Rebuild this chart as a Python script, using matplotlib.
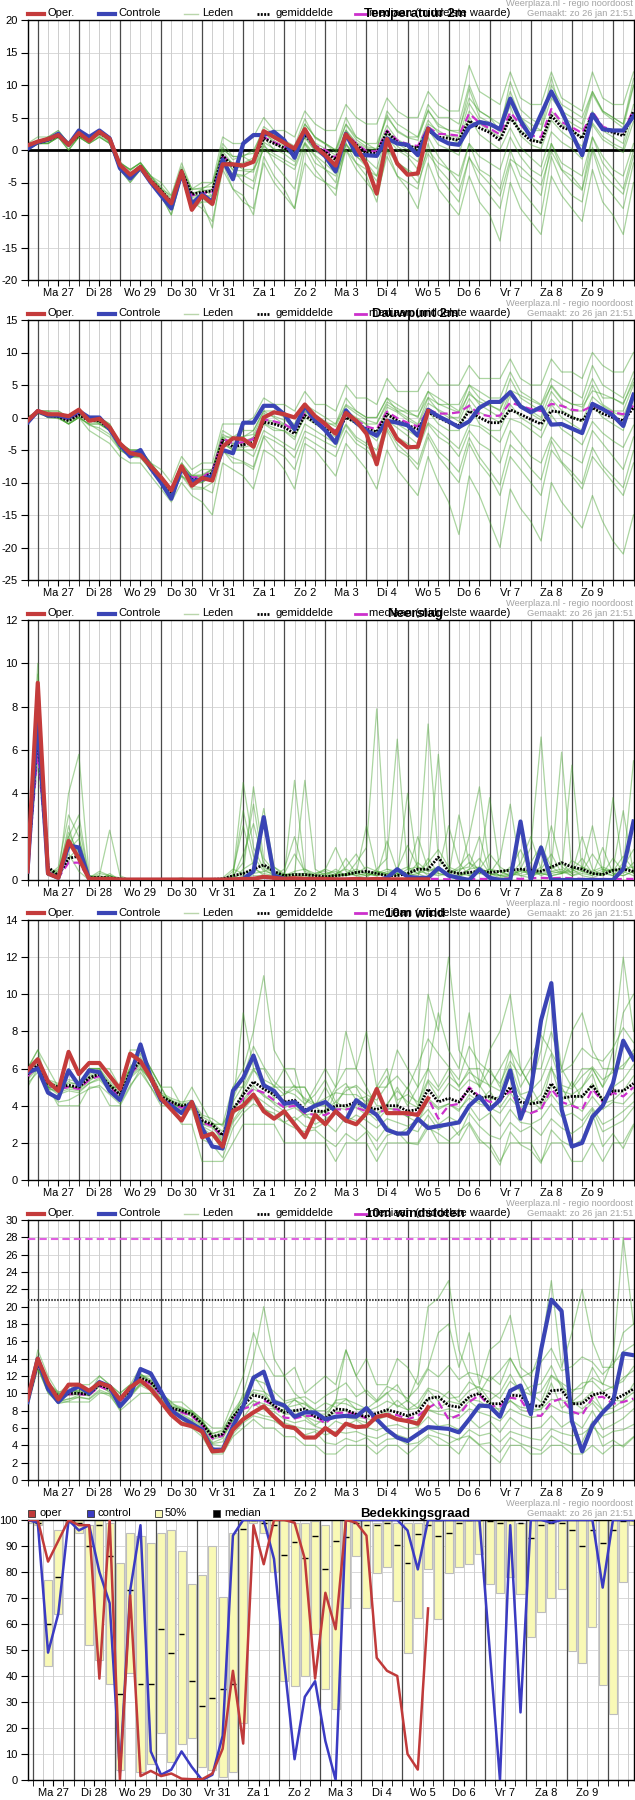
import numpy as np
import matplotlib
matplotlib.use("Agg")
import matplotlib.pyplot as plt
from matplotlib.lines import Line2D
from matplotlib.patches import Rectangle

plt.rcParams['font.family'] = ['Liberation Sans', 'DejaVu Sans']
plt.rcParams['font.size'] = 8
plt.rcParams['axes.unicode_minus'] = False

W, H = 635, 1800

# tijdas: elke 6 uur vanaf zo 26 jan 18:00 (60 punten)
uren = np.arange(60) * 6
DAGEN = ['Ma 27', 'Di 28', 'Wo 29', 'Do 30', 'Vr 31', 'Za 1', 'Zo 2',
         'Ma 3', 'Di 4', 'Wo 5', 'Do 6', 'Vr 7', 'Za 8', 'Zo 9']

# ---------------- temperatuur 2m ----------------
temp_oper = [0.7, 1.3, 1.7, 2.3, 0.8, 2.6, 1.4, 2.8, 1.7, -2.3, -3.8, -2.6, -4.8, -6.5, -8.2, -3.3,
             -9.2, -7.0, -8.3, -2.2, -2.2, -2.4, -1.8, 2.9, 2.0, 1.1, 0.2, 3.2, 0.5, -0.8, -2.4, 2.4,
             0.5, -2.2, -6.7, 1.7, -2.1, -3.8, -3.6, 3.2]
temp_ctrl = [0.2, 1.2, 1.6, 2.5, 0.8, 3.0, 2.0, 3.0, 1.8, -2.8, -4.4, -2.7, -5.0, -7.0, -9.0, -3.6,
             -8.3, -6.8, -8.0, -1.5, -4.5, 1.0, 2.3, 2.3, 2.8, 1.5, -1.2, 3.0, 0.5, -1.0, -3.3, 2.5,
             -0.7, -0.8, -0.9, 1.8, 1.0, 0.8, -0.8, 3.3, 1.8, 1.0, 0.8, 3.5, 4.3, 4.0, 3.2, 7.9,
             4.5, 2.0, 5.5, 9.0, 6.0, 2.5, -0.8, 5.5, 3.2, 3.0, 3.0, 5.2]
temp_gem = [0.5, 1.1, 1.5, 2.2, 0.8, 2.3, 1.8, 2.6, 1.7, -2.5, -3.8, -2.5, -4.6, -6.2, -8.0, -3.2,
            -6.8, -6.5, -6.3, -0.8, -2.6, -2.4, -1.8, 1.8, 1.0, 0.3, -0.8, 2.4, 0.5, -0.3, -1.5, 2.3,
            0.8, -0.5, -0.5, 2.8, 1.2, 0.6, 0.3, 3.0, 2.0, 1.8, 1.5, 4.5, 3.4, 2.7, 1.5, 5.0,
            2.8, 1.5, 1.2, 5.3, 3.5, 3.0, 1.8, 5.6, 3.2, 2.7, 2.2, 6.0]
temp_med = [0.6, 1.1, 1.5, 2.3, 0.8, 2.4, 1.8, 2.7, 1.7, -2.5, -3.9, -2.5, -4.7, -6.3, -8.1, -3.2,
            -7.0, -6.6, -6.5, -0.9, -2.4, -2.3, -1.6, 2.0, 1.2, 0.5, -0.6, 2.6, 0.7, 0.0, -1.2, 2.5,
            1.0, -0.2, -0.2, 3.0, 1.5, 0.9, 0.6, 3.5, 2.5, 2.4, 2.2, 5.6, 4.2, 3.3, 2.4, 5.8,
            3.9, 2.2, 2.0, 6.3, 4.3, 3.5, 2.6, 5.9, 3.6, 3.0, 2.8, 6.2]
temp_leden = [
    [1, 1, 2, 3, 1, 3, 2, 3, 2, -2, -3, -2, -4, -6, -7, -3, -6, -6, -5, 0, -1, -1, 0, 3, 2, 1, 0, 4, 2, 1, 0, 4,
     2, 1, 1, 5, 3, 2, 2, 6, 4, 3, 3, 8, 6, 5, 4, 9, 5, 4, 3, 8, 6, 5, 4, 9, 6, 5, 4, 10],
    [0, 1, 1, 2, 0, 2, 1, 2, 1, -3, -4, -3, -5, -7, -9, -4, -8, -8, -8, -2, -4, -4, -3, 0, -1, -2, -3, 1, -2, -3, -4, 0,
     -2, -3, -4, 0, -2, -3, -4, 0, -2, -3, -4, 1, -1, -2, -3, 2, -1, -3, -4, 1, -2, -3, -4, 2, -1, -3, -4, 1],
    [1, 2, 2, 3, 1, 3, 2, 3, 2, -2, -3, -2, -4, -5, -7, -2, -6, -5, -5, 2, 1, 1, 2, 5, 3, 3, 2, 6, 4, 3, 3, 7,
     5, 4, 4, 8, 6, 5, 5, 9, 7, 6, 6, 13, 9, 8, 7, 12, 8, 7, 7, 12, 8, 7, 6, 12, 8, 7, 7, 12],
    [0, 1, 1, 2, 0, 2, 1, 3, 1, -3, -5, -3, -5, -7, -10, -4, -9, -8, -12, -2, -6, -7, -10, -1, -4, -6, -9, 0, -3, -5, -7, 1,
     -2, -4, -8, 0, -4, -6, -9, -2, -6, -8, -10, -4, -8, -10, -14, -5, -9, -11, -13, -4, -7, -9, -11, -3, -8, -10, -13, -5],
    [1, 1, 2, 2, 1, 2, 2, 3, 2, -2, -3, -2, -4, -6, -8, -3, -7, -7, -6, 1, -1, -1, -2, 3, 1, 0, -1, 4, 2, 1, 0, 5,
     2, 1, 0, 6, 4, 3, 2, 7, 5, 5, 4, 10, 6, 5, 3, 8, 5, 3, 3, 10, 7, 6, 5, 9, 6, 5, 4, 11],
    [0, 1, 1, 2, 0, 2, 1, 2, 1, -3, -4, -3, -5, -7, -9, -4, -7, -7, -7, -1, -3, -5, -6, 1, -2, -4, -6, 1, -1, -3, -5, 1,
     -1, -2, -4, 2, 0, -1, -3, 2, -1, -3, -5, 1, -3, -4, -6, 0, -4, -5, -7, 1, -3, -4, -6, 2, -2, -4, -6, 0],
    [1, 1, 2, 2, 1, 2, 2, 3, 2, -3, -4, -3, -5, -6, -8, -3, -7, -6, -7, -1, -2, -3, -3, 2, 0, 0, -1, 2, 0, -1, -2, 3,
     1, 0, -1, 3, 1, 0, 0, 4, 3, 2, 1, 6, 4, 3, 2, 5, 3, 2, 1, 6, 4, 3, 2, 6, 3, 2, 1, 7],
    [0, 1, 1, 2, 1, 2, 1, 2, 1, -3, -5, -3, -5, -7, -10, -4, -8, -9, -11, -3, -6, -8, -9, -2, -5, -7, -9, -2, -4, -5, -6, 0,
     -3, -5, -7, -1, -4, -5, -6, 1, -4, -6, -8, -1, -5, -7, -9, -2, -6, -8, -10, -1, -5, -7, -8, 0, -5, -7, -9, -2],
    [0.8, 1.4, 1.8, 2.6, 1.2, 2.5, 2.1, 3.1, 2.0, -1.8, -3.2, -1.9, -4.0, -5.6, -7.4, -2.6, -6.1, -5.8, -5.6, 0.4,
     -1.5, -0.8, -0.5, 3.6, 2.4, 1.5, 0.6, 4.8, 1.8, 0.9, -0.4, 3.9, 1.6, 0.5, 0.2, 5.4, 2.8, 1.9, 1.5, 6.2,
     3.6, 3.1, 2.6, 9.4, 5.1, 4.2, 3.1, 10.5, 6.2, 4.8, 3.9, 11.2, 5.3, 4.1, 3.2, 8.6, 5.8, 4.6, 3.4, 9.8],
    [0.3, 0.9, 1.2, 1.9, 0.5, 2.0, 1.5, 2.2, 1.3, -2.9, -4.5, -3.1, -5.2, -6.8, -8.9, -3.9, -7.6, -7.4, -8.6, -1.8,
     -3.6, -3.9, -4.8, 0.6, -0.6, -1.5, -2.4, 1.2, -0.8, -2.1, -3.6, 0.8, -0.9, -2.6, -4.8, 0.3, -1.8, -3.2, -5.1, -0.6,
     -2.8, -4.6, -6.4, -1.2, -3.5, -5.2, -7.1, -1.4, -2.6, -4.1, -5.4, -0.2, -3.1, -4.8, -6.2, 0.4, -3.6, -5.3, -6.8, -0.9],
    [0.6, 1.2, 1.6, 2.4, 0.9, 2.2, 1.9, 2.9, 1.8, -2.2, -3.6, -2.3, -4.4, -6.0, -7.7, -3.0, -6.6, -6.3, -6.0, -0.2,
     -2.2, -2.0, -1.2, 2.6, 1.4, 0.6, -0.4, 3.4, 1.1, 0.2, -0.8, 3.1, 1.2, 0.3, -0.1, 3.8, 1.6, 0.8, 0.4, 4.6,
     2.6, 2.2, 1.9, 7.2, 4.6, 3.9, 2.8, 6.8, 2.2, 0.8, 0.2, 4.6, 2.8, 1.6, 0.6, 3.9, 1.6, 0.6, -0.4, 4.4],
    [0.4, 1.0, 1.4, 2.0, 0.6, 2.1, 1.6, 2.4, 1.5, -2.7, -4.1, -2.8, -4.9, -6.5, -8.4, -3.5, -7.3, -7.1, -7.2, -1.2,
     -3.1, -3.2, -3.4, 1.2, 0.2, -0.6, -1.8, 1.9, -0.2, -1.1, -2.6, 1.8, 0.1, -1.4, -2.9, 2.6, 0.6, -0.6, -1.8, 3.2,
     0.8, 0.1, -0.8, 5.1, 2.4, 1.2, 0.1, 3.4, 0.4, -1.2, -2.6, 2.8, 1.2, 0.2, -1.4, 4.2, 2.1, 1.0, 0.2, 5.6],
]

# ---------------- dauwpunt 2m ----------------
dauw_oper = [-0.5, 1.0, 0.5, 0.5, 0.2, 1.2, -0.5, -0.2, -1.5, -4.0, -5.5, -5.8, -7.5, -9.2, -11.2, -7.5,
             -10.5, -9.3, -9.7, -4.5, -3.2, -3.3, -4.5, 0.0, 0.8, 0.5, 0.0, 2.0, 0.2, -1.0, -2.5, 0.7,
             -0.5, -2.5, -7.2, -0.5, -3.3, -4.6, -4.5, 1.0]
dauw_ctrl = [-0.8, 1.0, 0.3, 0.3, 0.0, 1.0, 0.0, 0.0, -1.8, -4.2, -6.0, -5.0, -7.8, -10.0, -12.5, -7.8,
             -9.8, -9.5, -9.0, -5.0, -5.5, -0.8, -0.8, 1.8, 1.8, 0.5, -1.8, 1.8, -0.5, -2.0, -3.9, 1.1,
             -0.8, -2.0, -2.8, -0.5, -0.8, -1.2, -2.8, 1.2, 0.2, -0.6, -1.5, -0.6, 1.5, 2.4, 2.4, 3.9,
             1.7, 0.8, 1.6, -1.1, -1.0, -1.7, -2.4, 2.1, 1.3, 0.3, -1.3, 3.5]
dauw_gem = [-0.5, 0.8, 0.3, 0.1, -0.5, 0.4, -0.5, -0.5, -1.8, -4.2, -5.5, -5.5, -7.5, -9.5, -11.5, -8.0,
            -9.5, -9.5, -8.5, -3.5, -4.5, -4.2, -3.8, -0.7, -1.0, -1.5, -2.5, 0.3, -0.8, -1.8, -2.5, 0.0,
            -0.8, -1.8, -2.2, 0.5, -0.5, -1.2, -1.8, 0.8, 0.0, -0.8, -1.2, 1.0, 0.0, -0.8, -0.8, 1.2,
            0.5, -0.3, -1.0, 1.0, 0.8, 0.0, -0.5, 1.5, 0.6, 0.0, -0.5, 1.5]
dauw_med = [-0.4, 0.9, 0.4, 0.2, -0.3, 0.6, -0.3, -0.3, -1.6, -4.0, -5.3, -5.3, -7.3, -9.3, -11.2, -7.8,
            -9.2, -9.2, -8.2, -3.2, -4.0, -3.8, -3.3, -0.3, -0.6, -1.0, -2.0, 0.7, -0.4, -1.4, -2.0, 0.4,
            -0.4, -1.4, -1.8, 0.9, -0.1, -0.8, -1.4, 1.2, 0.6, 0.6, 0.8, 1.8, 0.5, 0.2, 0.3, 2.3,
            1.8, 1.3, 1.0, 2.1, 1.8, 1.2, 1.0, 1.8, 1.2, 0.8, 0.5, 1.8]
dauw_leden = [
    [0, 1, 1, 1, 0, 1, 0, 0, -1, -4, -5, -5, -7, -9, -11, -7, -9, -8, -8, -2, -3, -3, -2, 1, 1, 0, -1, 2, 1, 0, -1, 3,
     1, 0, 0, 3, 2, 1, 1, 4, 3, 2, 2, 5, 4, 3, 3, 7, 4, 3, 2, 6, 5, 4, 3, 8, 5, 4, 3, 7],
    [-1, 1, 0, 0, -1, 0, -2, -3, -4, -6, -7, -7, -9, -11, -13, -10, -12, -13, -15, -7, -8, -9, -11, -5, -6, -8, -11, -4,
     -5, -7, -9, -4, -6, -8, -11, -5, -8, -10, -12, -6, -10, -13, -18, -9, -12, -16, -20, -11, -14, -16, -19, -10,
     -13, -15, -17, -12, -16, -19, -21, -15],
    [0, 1, 1, 1, 0, 1, 0, 0, -1, -4, -5, -5, -7, -8, -10, -6, -8, -7, -7, -1, -1, -1, 0, 3, 2, 2, 1, 4, 2, 2, 1, 5,
     3, 3, 2, 6, 4, 4, 4, 7, 5, 5, 5, 8, 6, 6, 6, 9, 6, 5, 5, 9, 7, 7, 6, 10, 8, 7, 7, 10],
    [-1, 1, 0, 0, -1, 0, -1, -1, -2, -5, -6, -6, -8, -10, -12, -9, -10, -10, -9, -4, -5, -5, -5, -1, -2, -2, -3, 0,
     -1, -2, -3, 0, -1, -2, -3, 1, -1, -2, -3, 1, -1, -2, -2, 2, -1, -2, -2, 2, 0, -1, -2, 2, 0, -1, -2, 2, 0, -1, -2, 3],
    [-1, 1, 0, 0, -1, 0, -1, -2, -3, -5, -6, -6, -8, -10, -12, -9, -11, -11, -10, -5, -7, -7, -8, -3, -5, -6, -8, -3,
     -4, -5, -6, -2, -4, -5, -7, -2, -5, -6, -8, -3, -6, -8, -10, -4, -7, -9, -12, -6, -8, -10, -12, -5, -7, -9, -11, -6,
     -8, -10, -12, -7],
    [0, 1, 1, 0, 0, 1, 0, -1, -2, -4, -6, -5, -7, -9, -11, -8, -9, -9, -8, -3, -3, -2, -2, 1, 0, -1, -2, 2, 0, -1, -1, 2,
     1, 0, 0, 3, 1, 1, 0, 4, 2, 2, 1, 5, 3, 2, 1, 6, 3, 2, 1, 5, 3, 2, 2, 6, 3, 3, 2, 6],
    [-1, 1, 0, 0, -1, 0, -1, -1, -2, -4, -6, -6, -8, -10, -12, -8, -10, -10, -9, -4, -5, -5, -6, -2, -3, -4, -5, -1,
     -2, -3, -4, -1, -3, -4, -5, -1, -3, -4, -5, -1, -3, -4, -6, -2, -4, -5, -7, -2, -4, -6, -7, -3, -5, -6, -7, -2,
     -4, -6, -8, -3],
    [0, 1, 0, 0, 0, 1, 0, 0, -2, -4, -5, -5, -7, -9, -11, -7, -9, -9, -8, -3, -4, -4, -3, 0, -1, -1, -2, 1, 0, -1, -2, 1,
     0, -1, -1, 2, 1, 0, -1, 3, 1, 0, 0, 4, 2, 1, 0, 4, 2, 1, 0, 4, 2, 1, 1, 5, 2, 1, 1, 5],
    [-0.3, 0.9, 0.5, 0.3, -0.2, 0.7, -0.2, -0.3, -1.4, -3.8, -5.1, -5.2, -7.1, -9.1, -10.9, -7.4, -8.9, -8.8, -7.9, -2.6,
     -3.4, -2.9, -2.6, 0.6, 0.2, -0.4, -1.2, 1.4, 0.4, -0.6, -1.4, 1.8, 0.6, -0.4, -0.9, 2.4, 1.4, 0.6, 0.2, 3.1,
     2.1, 1.4, 0.8, 3.6, 2.4, 1.8, 1.2, 4.2, 3.4, 2.6, 1.9, 4.8, 2.8, 2.1, 1.6, 4.1, 3.6, 2.9, 2.2, 5.4],
    [-0.8, 0.6, 0.1, -0.2, -0.9, 0.1, -1.2, -1.6, -2.6, -4.8, -6.1, -6.2, -8.1, -10.2, -12.3, -8.9, -10.6, -10.8, -11.6, -5.2,
     -6.2, -6.8, -7.6, -2.8, -3.6, -4.6, -6.2, -2.1, -2.9, -3.8, -4.6, -1.2, -3.4, -4.4, -5.9, -1.6, -4.1, -5.6, -7.2, -2.4,
     -5.2, -6.6, -8.4, -3.1, -6.1, -8.2, -10.4, -4.2, -5.8, -7.9, -9.6, -3.6, -6.8, -8.4, -10.2, -4.6, -7.4, -9.1, -10.8, -5.1],
    [-0.6, 0.8, 0.3, 0.1, -0.6, 0.4, -0.6, -0.8, -2.0, -4.4, -5.8, -5.7, -7.7, -9.7, -11.8, -8.3, -9.8, -9.6, -9.2, -3.9,
     -4.8, -4.6, -4.2, -0.9, -1.6, -2.1, -3.4, 0.6, -0.6, -1.6, -2.2, 0.8, -0.2, -1.1, -2.3, 1.6, 0.8, -0.4, -1.2, 2.2,
     1.2, 0.4, -0.6, 2.9, 0.8, 0.1, -0.8, 3.4, 1.6, 0.6, -0.4, 2.8, 1.1, 0.2, -0.6, 3.2, 1.8, 0.8, 0.2, 3.8],
    [-0.4, 0.9, 0.4, 0.2, -0.4, 0.5, -0.4, -0.6, -1.7, -4.1, -5.4, -5.4, -7.3, -9.3, -11.2, -7.7, -9.2, -9.1, -8.4, -3.1,
     -4.1, -3.6, -3.1, -0.2, -0.6, -1.2, -1.8, 0.9, -0.3, -1.2, -2.1, 0.4, -1.1, -2.2, -3.6, -0.4, -1.6, -2.8, -4.1, -0.8,
     -2.1, -3.4, -4.8, -1.1, -1.4, -2.6, -3.8, -0.2, -0.8, -1.9, -3.1, 0.4, -1.8, -2.9, -4.2, -0.6, -2.4, -3.6, -4.6, -1.2],
]

# ---------------- neerslag ----------------
regen_oper = [0.4, 9.1, 0.3, 0.1, 1.8, 1.0, 0.05, 0.05, 0.05, 0.02, 0.02, 0.02, 0.02, 0.02, 0.02, 0.02,
              0.02, 0.02, 0.02, 0.02, 0.03, 0.05, 0.05, 0.15, 0.1, 0.05, 0.08, 0.05, 0.05, 0.05, 0.03, 0.03,
              0.05, 0.03, 0.05, 0.03, 0.03, 0.03, 0.03, 0.03]
regen_ctrl = [0.4, 7.5, 0.3, 0.1, 1.6, 1.5, 0.05, 0.0, 0, 0, 0, 0, 0, 0, 0, 0,
              0, 0, 0, 0, 0.0, 0.05, 0.4, 2.9, 0.2, 0.05, 0.0, 0.0, 0, 0, 0, 0,
              0.0, 0.0, 0.0, 0.1, 0.5, 0.15, 0.1, 0.1, 0.55, 0.2, 0.1, 0.0, 0.5, 0.1, 0.0, 0.0,
              2.7, 0.0, 1.5, 0.0, 0, 0, 0, 0, 0.0, 0.0, 0.5, 2.7]
regen_gem = [0.4, 6.8, 0.6, 0.2, 1.0, 1.1, 0.1, 0.12, 0.1, 0.05, 0.02, 0.02, 0.02, 0.02, 0.02, 0.02,
             0.02, 0.02, 0.03, 0.05, 0.2, 0.3, 0.5, 0.7, 0.4, 0.2, 0.25, 0.25, 0.2, 0.15, 0.2, 0.25,
             0.35, 0.4, 0.3, 0.2, 0.2, 0.3, 0.5, 0.5, 1.05, 0.4, 0.3, 0.35, 0.4, 0.35, 0.4, 0.45,
             0.5, 0.45, 0.4, 0.6, 0.8, 0.6, 0.5, 0.3, 0.25, 0.45, 0.5, 0.4]
regen_med = [0.3, 6.0, 0.4, 0.1, 0.8, 0.8, 0.05, 0.05, 0.02, 0, 0, 0, 0, 0, 0, 0,
             0, 0, 0, 0, 0.0, 0.05, 0.1, 0.1, 0.05, 0.03, 0.05, 0.05, 0.03, 0.03, 0.03, 0.05,
             0.05, 0.05, 0.05, 0.03, 0.03, 0.05, 0.1, 0.05, 0.05, 0.03, 0.05, 0.05, 0.05, 0.05, 0.05, 0.08,
             0.05, 0.08, 0.1, 0.08, 0.1, 0.08, 0.05, 0.05, 0.05, 0.03, 0.05, 0.05]
regen_leden = [
    [0.4, 10.0, 0.5, 0.2, 2.0, 1.0, 0.1, 0.3, 0.2, 0, 0, 0, 0, 0, 0, 0, 0, 0, 0, 0, 0.2, 4.5, 1.5, 0.5,
     0.2, 0.5, 2.0, 0.3, 0, 0.2, 0.5, 0.2, 0.8, 1.5, 7.9, 0.5, 0.3, 0.2, 0.8, 0.4, 0.5, 0.2, 0.1, 0.5,
     1.0, 0.3, 0.2, 0.6, 0.2, 0.1, 0.5, 1.2, 0.3, 0.5, 0.2, 0.1, 0.3, 1.0, 0.4, 0.2],
    [0.3, 6.5, 0.4, 0.1, 4.0, 5.8, 0.2, 0.1, 0, 0, 0, 0, 0, 0, 0, 0, 0, 0, 0, 0.1, 0.5, 0.3, 4.3, 1.0,
     0.4, 0.2, 0.3, 4.6, 0.5, 0.2, 0.1, 0.3, 0.2, 0.1, 0.5, 1.0, 6.5, 0.5, 0.3, 0.1, 0.4, 2.5, 0.8, 0.2,
     0.3, 0.5, 0.2, 0.1, 0.5, 1.5, 6.6, 0.5, 0.8, 0.3, 0.5, 2.5, 0.4, 0.2, 0.8, 0.3],
    [0.5, 8.0, 0.2, 0.5, 1.5, 2.5, 0.1, 0.2, 2.3, 0.2, 0, 0, 0, 0, 0, 0.1, 0, 0, 0, 0, 0, 0.5, 0.8, 3.3,
     0.6, 0.2, 0.1, 0.2, 0.3, 0.5, 1.5, 0.4, 0.2, 0.3, 0.2, 0.4, 0.3, 0.2, 0.5, 7.2, 1.0, 0.5, 0.3, 2.0,
     4.3, 0.5, 0.2, 0.3, 0.2, 0.3, 0.4, 0.6, 5.9, 0.4, 1.0, 0.3, 0.2, 3.8, 0.5, 5.5],
    [0.3, 7.0, 0.3, 0.3, 1.0, 1.5, 0.1, 0.1, 0.1, 0, 0, 0, 0, 0, 0, 0, 0, 0, 0, 0, 0, 0.2, 0.3, 0.4,
     0.3, 0.1, 0.2, 0.3, 0.2, 0.1, 0.3, 0.5, 0.3, 0.2, 0.3, 0.2, 0.5, 0.3, 2.0, 0.5, 5.8, 0.4, 0.3, 0.2,
     0.6, 0.3, 1.0, 3.5, 0.5, 0.2, 0.3, 0.4, 0.3, 5.3, 0.4, 0.2, 1.5, 0.3, 0.2, 0.4],
    [0.4, 9.0, 0.3, 0.2, 2.5, 0.8, 0.2, 0.1, 0.2, 0.1, 0, 0, 0, 0, 0, 0, 0, 0, 0, 0, 0.2, 0.8, 3.5, 0.6,
     0.3, 0.2, 4.6, 0.5, 0.2, 0.3, 0.2, 0.2, 0.4, 0.3, 0.2, 1.8, 0.4, 0.3, 0.2, 1.0, 0.3, 0.2, 3.0, 0.8,
     0.3, 0.5, 0.4, 0.2, 0.8, 2.0, 0.5, 0.3, 0.4, 0.2, 0.3, 0.2, 0.4, 0.5, 3.2, 0.3],
    [0.4, 5.5, 0.5, 0.4, 1.2, 0.4, 0, 0, 0.3, 0, 0, 0, 0, 0, 0, 0, 0, 0, 0, 0, 0, 0.1, 0.2, 0.2,
     0.1, 0.1, 0.1, 0.1, 0.1, 0.2, 0.2, 0.3, 0.5, 0.3, 0.2, 0.3, 0.2, 0.5, 0.6, 0.2, 0.3, 0.2, 0.2, 0.3,
     0.4, 0.3, 0.2, 0.2, 0.5, 0.3, 0.3, 0.2, 0.3, 0.4, 0.6, 0.3, 0.3, 0.2, 0.5, 0.6],
    [0.2, 8.5, 0.2, 0.6, 3.0, 2.0, 0.1, 0.4, 0.2, 0, 0, 0, 0, 0, 0, 0, 0, 0, 0, 0, 0.4, 2.5, 0.6, 0.2,
     0.2, 0.3, 0.2, 0.2, 0.1, 0.1, 0.2, 1.0, 0.3, 2.5, 0.4, 0.2, 0.2, 4.0, 0.4, 0.3, 0.2, 0.3, 0.5, 0.6,
     2.0, 0.3, 0.1, 0.2, 0.4, 0.3, 0.6, 2.5, 0.6, 0.3, 2.0, 0.5, 0.2, 0.5, 0.3, 0.8],
    [0.4, 7.5, 0.4, 0.2, 2.0, 3.0, 0.1, 0.1, 0.1, 0, 0, 0, 0, 0, 0, 0, 0, 0, 0, 0, 0.1, 0.3, 0.5, 0.3,
     0.2, 0.2, 0.3, 0.3, 0.2, 0.5, 0.3, 0.2, 0.3, 0.2, 0.4, 0.3, 0.3, 0.2, 0.3, 0.5, 0.5, 0.3, 0.2, 0.5,
     0.6, 3.8, 0.4, 0.2, 0.3, 0.5, 0.2, 0.4, 0.5, 0.2, 0.4, 0.3, 0.5, 0.3, 0.2, 0.4],
    [0.3, 8.2, 0.4, 0.3, 1.4, 1.9, 0.1, 0.2, 0.1, 0, 0, 0, 0, 0, 0, 0, 0, 0, 0, 0, 0.1, 1.2, 2.6, 0.8,
     0.3, 0.2, 0.4, 0.5, 0.3, 0.4, 0.2, 0.6, 1.2, 0.4, 0.3, 0.5, 0.4, 0.6, 0.3, 0.8, 1.4, 0.6, 0.4, 0.8,
     0.5, 1.2, 0.6, 0.3, 0.4, 0.8, 1.6, 0.6, 0.3, 0.9, 0.6, 0.4, 0.6, 0.4, 1.1, 0.5],
    [0.4, 9.5, 0.3, 0.4, 2.2, 1.2, 0.2, 0.1, 0.2, 0, 0, 0, 0, 0, 0, 0, 0, 0, 0, 0, 0.2, 3.2, 1.1, 0.4,
     0.6, 0.3, 1.2, 0.4, 0.2, 0.3, 0.4, 0.2, 0.3, 0.6, 0.4, 0.3, 0.5, 1.6, 0.6, 0.4, 0.6, 0.3, 0.6, 1.2,
     0.3, 0.2, 0.4, 0.5, 1.4, 0.4, 0.3, 0.2, 0.3, 0.6, 0.4, 1.2, 0.5, 0.4, 0.6, 1.4],
]

# ---------------- 10m wind ----------------
wind_oper = [5.9, 6.5, 5.3, 4.8, 6.9, 5.7, 6.3, 6.3, 5.6, 4.9, 6.8, 6.4, 5.5, 4.4, 3.8, 3.2,
             4.2, 2.3, 2.5, 1.8, 3.7, 4.0, 4.6, 3.7, 3.3, 3.7, 3.0, 2.3, 3.5, 3.0, 3.7, 3.2,
             3.0, 3.6, 4.9, 3.6, 3.6, 3.6, 3.5, 4.4]
wind_ctrl = [5.8, 6.0, 4.7, 4.4, 5.9, 5.1, 5.9, 5.8, 4.8, 4.3, 5.6, 7.3, 5.5, 4.3, 4.0, 3.6,
             4.2, 2.8, 1.8, 1.7, 4.8, 5.5, 6.7, 5.1, 4.8, 4.1, 4.2, 3.7, 4.0, 4.2, 3.7, 3.2,
             4.3, 3.9, 3.5, 2.7, 2.5, 2.5, 3.3, 2.8, 2.9, 3.0, 3.1, 4.0, 4.5, 3.8, 4.3, 5.9,
             3.3, 4.8, 8.6, 10.6, 3.8, 1.8, 2.0, 3.4, 4.0, 5.2, 7.5, 6.5]
wind_gem = [5.7, 6.2, 5.2, 5.0, 5.1, 5.0, 5.5, 5.7, 5.1, 4.6, 5.8, 6.4, 5.6, 4.5, 4.2, 4.0,
            4.1, 3.2, 3.0, 2.4, 3.8, 4.6, 5.3, 4.9, 4.6, 4.2, 4.3, 3.8, 3.7, 3.7, 4.0, 4.0,
            4.2, 3.9, 3.8, 4.0, 4.0, 3.7, 3.8, 4.9, 4.2, 4.4, 4.2, 4.9, 4.4, 4.5, 4.3, 5.0,
            4.2, 4.1, 4.2, 5.2, 4.4, 4.5, 4.5, 5.1, 4.3, 4.8, 4.8, 5.2]
wind_med = [5.6, 6.1, 5.1, 4.9, 5.0, 4.9, 5.4, 5.6, 5.0, 4.5, 5.7, 6.3, 5.5, 4.4, 4.1, 3.9,
            4.0, 3.1, 2.9, 2.3, 3.7, 4.4, 4.9, 4.7, 4.3, 3.9, 4.0, 3.6, 3.5, 3.5, 3.8, 3.8,
            3.9, 3.7, 3.6, 3.8, 3.8, 3.5, 3.6, 4.4, 3.3, 4.0, 4.1, 5.0, 4.5, 4.2, 4.3, 4.8,
            3.8, 3.6, 3.8, 4.9, 4.2, 4.0, 3.8, 4.9, 4.2, 4.7, 4.5, 5.0]
wind_leden = [
    [6, 7, 6, 5, 5, 5, 6, 6, 5, 5, 6, 7, 6, 5, 4, 4, 4, 3, 3, 2, 5, 6, 8, 11, 7, 6, 5, 5, 4, 4, 5, 8,
     6, 5, 4, 4, 5, 4, 5, 10, 8, 12, 7, 6, 5, 6, 5, 7, 6, 5, 4, 6, 5, 4, 5, 6, 5, 7, 12, 8],
    [5, 6, 5, 4, 4, 4, 5, 5, 4, 4, 5, 6, 5, 4, 4, 3, 3, 1, 1, 1, 2, 3, 3, 3, 3, 2, 2, 2, 2, 2, 1, 2,
     2, 2, 1, 2, 2, 2, 2, 3, 2, 2, 2, 3, 2, 2, 1, 2, 2, 2, 1, 2, 2, 1, 1, 2, 1, 2, 2, 3],
    [6, 6, 5, 5, 6, 5, 6, 6, 6, 5, 7, 7, 6, 5, 5, 4, 5, 4, 3, 3, 4, 9, 6, 5, 5, 6, 6, 4, 5, 6, 5, 6,
     6, 8, 5, 5, 7, 6, 5, 6, 9, 7, 6, 9, 5, 7, 8, 10, 6, 5, 7, 10, 6, 8, 9, 7, 6, 6, 9, 10],
    [5.5, 6.2, 5.0, 4.6, 4.8, 4.7, 5.2, 5.5, 4.9, 4.3, 5.5, 6.0, 5.4, 4.6, 4.3, 3.8, 3.9, 2.9, 2.6, 2.1,
     3.2, 4.0, 4.6, 4.2, 3.8, 3.5, 3.2, 3.6, 3.0, 3.3, 3.6, 3.1, 3.5, 3.2, 2.8, 3.3, 3.1, 2.9, 3.2, 3.8,
     3.0, 3.4, 3.1, 4.0, 3.2, 3.6, 2.9, 3.8, 3.1, 3.0, 3.3, 4.1, 3.4, 3.6, 3.2, 3.9, 3.0, 3.3, 3.7, 4.2],
    [6, 7, 5, 5, 5, 5, 6, 6, 5, 5, 6, 7, 6, 5, 4, 4, 4, 3, 3, 3, 5, 5, 6, 6, 5, 5, 5, 5, 4, 5, 4, 5,
     5, 4, 5, 6, 4, 5, 4, 6, 5, 6, 5, 6, 6, 5, 6, 7, 5, 6, 6, 8, 6, 5, 6, 6, 5, 6, 6, 7],
    [5.2, 5.8, 4.8, 4.2, 4.3, 4.6, 4.9, 5.1, 4.6, 4.1, 5.1, 5.8, 5.0, 4.2, 3.9, 3.7, 3.8, 2.2, 1.9, 1.2,
     2.8, 3.6, 4.1, 3.8, 3.6, 3.1, 2.8, 2.6, 2.7, 2.2, 1.8, 2.5, 2.1, 2.6, 1.6, 2.4, 2.6, 2.0, 1.9, 2.8,
     2.5, 2.1, 2.6, 3.1, 2.2, 1.7, 0.8, 2.6, 1.9, 1.6, 0.9, 2.7, 2.1, 1.8, 2.2, 3.6, 1.8, 2.5, 1.7, 2.9],
    [6.1, 6.6, 5.4, 5.2, 5.4, 5.3, 5.7, 6.0, 5.3, 4.8, 6.1, 6.6, 5.8, 4.7, 4.4, 4.2, 4.3, 3.5, 3.3, 2.9,
     4.2, 5.1, 6.6, 5.3, 4.4, 4.6, 5.1, 4.3, 4.0, 3.4, 4.8, 5.2, 4.3, 4.5, 3.4, 4.1, 4.8, 4.2, 3.9, 5.3,
     4.4, 5.2, 4.8, 5.4, 5.1, 4.3, 4.5, 5.6, 4.5, 4.1, 4.6, 6.1, 4.2, 5.3, 4.4, 5.2, 4.3, 5.0, 5.4, 6.2],
    [5.4, 6.0, 4.9, 4.8, 5.0, 4.9, 5.3, 5.8, 5.1, 4.4, 5.7, 6.2, 5.3, 4.3, 4.1, 3.9, 4.0, 3.0, 2.8, 2.2,
     3.9, 4.3, 5.1, 4.5, 4.2, 3.9, 4.1, 3.4, 3.3, 3.8, 4.2, 3.9, 4.1, 3.7, 3.2, 3.8, 3.9, 3.4, 3.1, 4.3,
     3.8, 4.1, 3.7, 4.6, 4.2, 4.8, 3.9, 4.7, 3.9, 4.3, 3.8, 5.1, 4.8, 4.6, 5.0, 5.7, 4.1, 4.3, 4.8, 5.6],
    [5.8, 6.4, 5.1, 4.9, 5.3, 5.1, 5.6, 5.9, 5.2, 4.7, 5.9, 6.8, 5.7, 4.6, 4.3, 4.1, 4.2, 3.4, 3.1, 2.6,
     4.4, 5.6, 7.2, 6.1, 5.3, 4.8, 4.6, 4.1, 4.6, 5.4, 4.2, 4.8, 5.1, 4.6, 4.3, 5.1, 5.6, 4.9, 6.2, 7.6,
     6.8, 6.1, 5.4, 7.2, 6.3, 5.8, 5.2, 6.4, 5.6, 6.6, 7.8, 6.9, 5.8, 6.2, 7.1, 6.6, 6.4, 7.1, 8.2, 7.4],
    [5.6, 6.0, 5.0, 4.7, 4.9, 4.8, 5.2, 5.4, 4.8, 4.4, 5.6, 6.1, 5.3, 4.4, 4.0, 3.8, 3.9, 2.8, 2.4, 1.6,
     3.1, 3.8, 4.4, 3.9, 3.4, 3.1, 3.4, 2.9, 2.8, 3.1, 2.6, 3.4, 3.2, 2.7, 2.1, 2.9, 2.4, 2.8, 2.6, 3.5,
     2.7, 3.1, 2.4, 3.6, 2.9, 2.4, 2.2, 3.1, 2.6, 2.9, 2.4, 3.3, 2.8, 2.5, 2.9, 3.8, 2.6, 2.9, 3.2, 3.9],
    [5.9, 6.5, 5.3, 5.1, 5.2, 5.2, 5.5, 5.8, 5.1, 4.6, 5.9, 6.4, 5.6, 4.5, 4.2, 4.0, 4.1, 3.2, 2.9, 2.4,
     3.6, 4.8, 5.9, 5.4, 5.1, 4.6, 4.9, 4.4, 4.1, 4.4, 4.7, 4.6, 4.6, 4.2, 4.8, 5.6, 4.3, 4.6, 4.2, 5.4,
     4.8, 5.6, 5.1, 5.8, 5.4, 5.1, 4.8, 6.2, 4.6, 4.8, 5.4, 6.8, 5.1, 4.9, 5.6, 6.1, 5.4, 5.8, 6.2, 6.8],
    [5.5, 6.1, 5.0, 4.9, 5.0, 4.9, 5.4, 5.6, 4.9, 4.5, 5.6, 6.3, 5.5, 4.4, 4.1, 3.9, 4.0, 3.1, 2.9, 2.3,
     3.5, 4.2, 4.9, 4.6, 4.1, 3.7, 3.9, 3.5, 3.6, 3.7, 3.9, 3.8, 3.9, 3.5, 3.6, 3.9, 3.7, 3.4, 3.6, 4.4,
     3.9, 4.1, 3.8, 4.4, 4.1, 3.9, 3.6, 4.4, 3.8, 3.6, 3.9, 4.6, 3.9, 4.1, 3.7, 4.5, 3.8, 4.2, 4.1, 4.7],
]

# ---------------- 10m windstoten ----------------
stoot_oper = [9.3, 14.0, 11.2, 9.3, 11.0, 11.0, 10.3, 11.2, 10.8, 9.3, 10.7, 11.5, 10.5, 9.0, 7.5, 6.5,
              6.2, 5.6, 3.3, 3.4, 5.8, 7.0, 7.8, 8.5, 7.3, 6.2, 6.0, 4.9, 4.9, 6.0, 5.2, 6.5,
              6.1, 6.2, 7.3, 7.5, 7.0, 6.8, 6.5, 8.4]
stoot_ctrl = [9.0, 14.0, 10.5, 9.0, 10.2, 10.8, 10.0, 11.3, 10.8, 8.5, 9.8, 12.8, 12.3, 10.2, 8.0, 7.2,
              6.5, 5.8, 3.5, 3.5, 6.2, 8.5, 11.8, 12.5, 9.0, 8.6, 7.3, 7.8, 7.8, 7.0, 7.3, 7.4,
              7.3, 8.3, 7.0, 5.8, 4.9, 4.5, 5.3, 6.1, 6.0, 5.9, 5.5, 7.0, 8.6, 8.5, 7.3, 10.3,
              10.9, 7.6, 15.0, 20.8, 19.5, 6.8, 3.3, 6.3, 7.8, 9.0, 14.6, 14.4]
stoot_gem = [9.0, 13.5, 11.0, 9.6, 10.0, 10.0, 9.9, 11.0, 10.5, 9.3, 10.3, 11.8, 11.3, 10.0, 8.3, 8.0,
             7.6, 6.5, 5.0, 5.3, 7.3, 8.6, 9.8, 9.5, 8.6, 7.8, 8.0, 8.2, 7.3, 7.0, 8.2, 8.1,
             7.6, 7.3, 7.7, 8.1, 7.8, 7.4, 7.8, 9.4, 9.6, 8.6, 8.4, 9.6, 10.0, 8.8, 8.8, 9.8,
             9.7, 8.6, 8.5, 10.3, 10.4, 8.8, 8.8, 9.8, 10.1, 9.2, 9.8, 10.5]
stoot_med = [9.0, 13.3, 10.8, 9.5, 9.9, 9.9, 9.8, 10.8, 10.3, 9.1, 10.1, 11.6, 11.1, 9.8, 8.1, 7.8,
             7.4, 6.3, 4.8, 5.1, 7.0, 8.2, 8.6, 9.2, 8.6, 7.2, 7.1, 7.4, 7.4, 6.5, 7.7, 7.8,
             7.6, 7.1, 7.3, 7.6, 7.5, 7.0, 7.4, 8.3, 9.0, 7.0, 7.5, 9.0, 9.8, 8.5, 8.5, 9.5,
             9.3, 7.5, 7.4, 9.0, 9.4, 7.9, 7.5, 9.5, 9.6, 8.8, 9.0, 9.4]
stoot_leden = [
    [9, 15, 12, 10, 11, 10, 10, 12, 11, 10, 11, 13, 12, 10, 9, 8, 8, 7, 5, 5, 7, 10, 14, 20, 14, 12, 10, 9,
     8, 8, 9, 15, 12, 10, 9, 10, 11, 9, 12, 20, 21, 23, 15, 12, 10, 12, 11, 14, 12, 10, 9, 12, 11, 9, 10, 13,
     11, 14, 28, 18],
    [9, 13, 10, 9, 9, 9, 9, 10, 10, 8, 9, 10, 10, 9, 8, 7, 6, 5, 3, 3, 5, 6, 7, 6, 6, 5, 5, 4,
     4, 3, 3, 4, 4, 4, 3, 4, 4, 3, 4, 5, 4, 4, 3, 5, 4, 3, 2, 4, 4, 3, 3, 4, 4, 3, 3, 4, 3, 4, 4, 5],
    [9, 14, 11, 10, 10, 11, 11, 12, 11, 10, 11, 12, 12, 10, 9, 9, 8, 7, 6, 6, 9, 12, 17, 14, 12, 12, 13, 10,
     11, 12, 11, 15, 12, 14, 11, 11, 14, 13, 11, 13, 17, 18, 13, 17, 11, 15, 16, 19, 13, 12, 15, 23,
     13, 17, 22, 16, 13, 13, 17, 18],
    [8.8, 13.2, 10.6, 9.2, 9.8, 9.9, 9.7, 10.8, 10.2, 8.9, 9.8, 11.0, 10.8, 9.6, 8.1, 7.6, 7.0, 6.1, 4.2, 4.4,
     6.3, 7.2, 8.8, 8.1, 7.9, 7.0, 6.6, 6.9, 6.2, 5.8, 6.8, 6.3, 6.9, 6.1, 5.7, 6.2, 6.4, 5.9, 6.1, 7.3,
     6.2, 6.4, 5.8, 7.1, 6.0, 6.8, 5.5, 7.2, 6.3, 5.9, 6.1, 7.4, 6.1, 6.9, 6.0, 8.0, 5.8, 6.4, 7.1, 8.2],
    [9.2, 14.3, 11.3, 9.9, 10.3, 10.2, 10.1, 11.4, 10.6, 9.4, 10.5, 12.1, 11.5, 10.2, 8.5, 8.2, 7.9, 6.8, 5.3, 5.8,
     7.8, 9.1, 10.4, 10.2, 9.3, 8.8, 9.2, 8.7, 8.1, 8.9, 8.4, 9.3, 8.8, 8.2, 9.1, 10.1, 8.4, 9.2, 8.3, 10.4,
     9.1, 10.2, 9.0, 10.3, 10.8, 9.2, 10.1, 12.2, 10.1, 10.8, 11.1, 13.2, 10.6, 10.1, 11.2, 11.4,
     10.2, 10.8, 11.4, 13.1],
    [8.4, 12.8, 10.1, 8.8, 9.1, 9.6, 9.3, 10.2, 9.7, 8.2, 9.6, 10.9, 10.3, 8.9, 7.8, 7.2, 6.8, 5.2, 3.8, 3.2,
     5.3, 6.6, 7.4, 7.1, 6.8, 6.1, 5.8, 5.2, 5.6, 4.3, 4.1, 4.8, 4.4, 4.9, 3.9, 4.7, 4.8, 4.1, 4.3, 5.2,
     4.9, 4.2, 4.8, 5.1, 4.1, 4.3, 3.2, 4.9, 4.2, 3.8, 3.4, 5.1, 4.3, 3.9, 4.4, 6.8, 3.9, 4.6, 3.8, 4.9],
    [9.1, 13.8, 11.1, 10.2, 10.1, 10.4, 10.2, 11.1, 10.9, 9.2, 10.1, 12.3, 11.2, 9.9, 8.8, 8.4, 7.8, 6.6, 5.1, 5.2,
     7.2, 9.3, 12.1, 10.3, 8.2, 8.1, 9.3, 8.2, 7.8, 7.1, 9.2, 9.4, 8.1, 8.3, 7.2, 8.1, 9.2, 8.1, 8.3, 9.4,
     8.2, 9.1, 8.8, 9.3, 9.1, 8.3, 8.2, 9.1, 8.4, 8.2, 8.1, 11.2, 8.3, 9.1, 8.2, 9.2, 8.1, 9.2, 9.1, 11.1],
    [8.9, 13.1, 10.3, 9.1, 9.3, 9.8, 9.9, 10.9, 10.1, 8.8, 9.9, 11.2, 10.9, 9.3, 8.2, 7.9, 7.3, 6.2, 4.3, 4.8,
     6.8, 8.1, 9.2, 8.3, 8.2, 7.9, 8.1, 7.3, 6.3, 7.2, 7.8, 8.1, 7.2, 7.1, 6.8, 7.9, 7.1, 6.9, 6.2, 8.1,
     7.9, 8.2, 7.8, 9.1, 8.2, 9.1, 7.9, 9.2, 8.1, 7.8, 8.2, 9.3, 9.2, 8.9, 9.1, 10.2, 8.1, 8.3, 9.2, 10.1],
    [9.1, 14.1, 11.2, 9.8, 10.2, 10.3, 10.2, 11.3, 10.7, 9.5, 10.6, 12.2, 11.6, 10.1, 8.6, 8.3, 7.8, 6.7, 5.4, 5.6,
     7.9, 9.6, 11.6, 11.2, 10.2, 9.1, 9.4, 9.6, 8.8, 9.7, 10.4, 11.2, 9.6, 10.4, 9.2, 10.8, 10.3, 9.4, 10.6, 12.8,
     11.9, 13.2, 11.6, 12.4, 12.1, 11.4, 12.6, 14.1, 11.8, 12.4, 13.6, 15.2, 12.6, 13.1, 14.2, 13.6,
     12.2, 13.4, 14.8, 15.6],
    [8.7, 12.9, 10.4, 9.0, 9.4, 9.5, 9.4, 10.4, 9.9, 8.6, 9.7, 11.1, 10.6, 9.4, 7.9, 7.4, 6.9, 5.8, 4.1, 3.9,
     5.8, 6.9, 7.9, 7.4, 7.2, 6.6, 6.2, 5.9, 5.8, 5.2, 5.6, 5.4, 5.6, 5.1, 4.8, 5.4, 5.2, 4.8, 5.1, 5.9,
     5.4, 5.1, 4.6, 5.8, 5.1, 5.4, 4.4, 5.6, 5.2, 4.8, 4.6, 5.9, 5.4, 5.1, 5.3, 6.2, 4.9, 5.6, 5.8, 6.4],
    [9.0, 13.6, 11.0, 9.6, 10.0, 10.1, 10.0, 11.1, 10.5, 9.3, 10.3, 11.9, 11.3, 10.0, 8.4, 8.1, 7.6, 6.5, 5.0, 5.4,
     7.4, 8.8, 10.1, 9.8, 8.9, 8.3, 8.6, 8.9, 7.6, 7.6, 8.9, 8.8, 8.2, 7.9, 8.4, 9.1, 8.6, 8.1, 8.9, 10.6,
     10.2, 9.4, 9.6, 11.3, 10.6, 10.2, 9.4, 11.4, 10.4, 9.8, 10.2, 12.1, 11.2, 10.4, 10.6, 11.8,
     11.1, 10.6, 11.8, 12.6],
    [8.9, 13.4, 10.8, 9.4, 9.8, 9.9, 9.8, 10.9, 10.4, 9.1, 10.2, 11.6, 11.1, 9.8, 8.2, 7.9, 7.4, 6.3, 4.7, 5.0,
     6.9, 8.2, 9.1, 8.8, 8.4, 7.6, 7.6, 7.4, 6.8, 6.6, 7.4, 7.2, 7.0, 6.6, 6.9, 7.4, 7.2, 6.8, 7.0, 8.1,
     7.6, 7.4, 7.1, 8.2, 7.8, 7.4, 6.8, 8.2, 7.6, 7.2, 7.4, 8.6, 7.9, 7.6, 7.8, 8.9, 7.4, 7.8, 8.4, 9.2],
]
stoot_grens_gem = 20.8
stoot_grens_med = 27.8

# ---------------- bedekkingsgraad ----------------
wolk_oper = [100, 100, 84, 92, 100, 98, 98, 39, 100, 0, 71, 1.5, 3.5, 1.5, 2.5, 0.5,
             0.3, 0.3, 2.5, 12, 42, 14, 98, 83, 100, 100, 99, 85, 39, 72, 58, 100,
             99, 94, 47, 42, 40, 10, 4, 66]
wolk_ctrl = [100, 99, 49, 64, 100, 96, 98, 80, 68, 3, 73, 98, 11, 2, 4, 11,
             5, 0, 2, 17, 94, 100, 100, 100, 85, 45, 8, 32, 38, 15, 0, 100,
             100, 100, 100, 100, 100, 96, 81, 100, 100, 100, 100, 100, 100, 50, 0, 98,
             26, 100, 100, 99, 100, 100, 100, 100, 74, 100, 100, 100]
wolk_q25 = [99, 98, 44, 64, 99, 95, 52, 46, 37, 4, 41, 3, 6, 18, 7, 14,
            16, 5, 4, 1, 3, 22, 99, 95, 80, 38, 36, 40, 56, 35, 27.5, 66,
            86, 66, 79.5, 82, 69, 49, 62.5, 81, 62, 79.5, 82, 83, 87, 75.5, 72, 78,
            71.5, 55, 64.5, 70, 73.5, 49.5, 45, 59, 36.5, 25.5, 76, 98]
wolk_q75 = [100, 100, 77, 96, 100, 100, 98, 100, 99, 83.5, 95, 94, 91, 95, 96, 88,
            75.5, 79, 90, 70.5, 95, 100, 100, 100, 100, 100, 99, 99, 99.5, 98, 100, 100,
            100, 100, 99, 100, 99, 99, 99, 100, 99.5, 100, 100, 100, 100, 100, 100, 100,
            99, 100, 100, 100, 100, 100, 100, 100, 100, 100, 100, 100]
wolk_med = [100, 99, 60, 78, 100, 99, 90, 98, 86, 33, 73, 37, 37, 58, 49, 56,
            38, 28.5, 31.5, 35, 37, 96.5, 100, 99, 98, 86.5, 91.5, 85.5, 94, 81, 92, 93.5,
            99, 98, 98, 99, 90.5, 83.5, 94.5, 98, 94, 95, 99, 100, 100, 99.5, 99, 100,
            98.8, 93, 98, 99, 99, 96, 90, 96, 91, 96, 99.5, 100]

ROOD = '#c43b3b'
BLAUW = '#3a44b5'
GROEN = '#45a32e'
MAGENTA = '#cc30cc'

fig = plt.figure(figsize=(W / 100, H / 100), dpi=100)


def fy(y):
    return 1 - y / H


def basis_as(k, ylim, yticks, dag0):
    top = 20 + 300 * k
    ax = fig.add_axes([27.5 / W, 1 - (top + 260) / H, 606 / W, 260 / H])
    ax.set_xlim(0, 354)
    ax.set_ylim(*ylim)
    ax.set_yticks(yticks)
    ax.set_yticklabels([str(v) for v in yticks])
    for v in yticks:
        ax.axhline(v, color='#d9d9d9', lw=0.7, zorder=0)
    for t in np.arange(dag0 % 6, 355, 6):
        ax.axvline(t, color='#cdcdcd', lw=0.7, zorder=0)
    for t in np.arange(dag0, 355, 24):
        ax.axvline(t, color='#4a4a4a', lw=0.9, zorder=1)
    ax.set_xticks(np.arange(dag0 + 12, 354, 24)[:14])
    ax.set_xticklabels(DAGEN)
    ax.set_xticks(np.arange(dag0 % 6, 355, 6), minor=True)
    ax.tick_params(axis='x', which='both', length=4, pad=2, labelsize=8)
    ax.tick_params(axis='y', length=5, pad=2, labelsize=8)
    for s in ax.spines.values():
        s.set_linewidth(1.0)
    return ax


def kop(k, titel):
    y0 = 300 * k
    fig.text(633 / W, fy(y0 + 4), 'Weerplaza.nl - regio noordoost', ha='right', va='center',
             fontsize=6.7, color='#a3a3a3')
    fig.text(633 / W, fy(y0 + 13.7), 'Gemaakt: zo 26 jan 21:51', ha='right', va='center',
             fontsize=6.7, color='#a3a3a3')
    fig.text(415 / W, fy(y0 + 14), titel, ha='center', va='center', fontsize=9.5,
             fontweight='bold', color='black', zorder=10)


def legenda(k):
    y = fy(300 * k + 13.5)
    items = [
        (28, 44, dict(color=ROOD, lw=3), 48, 'Oper.'),
        (99, 115, dict(color=BLAUW, lw=3), 118.5, 'Controle'),
        (184, 198, dict(color='#b9d6ab', lw=1), 202, 'Leden'),
        (257, 270, dict(color='black', lw=2, dashes=(0.7, 0.5)), 276, 'gemiddelde'),
        (355, 366, dict(color=MAGENTA, lw=2), 369, 'mediaan (middelste waarde)'),
    ]
    for x1, x2, stijl, xt, tekst in items:
        fig.add_artist(Line2D([x1 / W, x2 / W], [y, y], transform=fig.transFigure, **stijl))
        fig.text(xt / W, y, tekst, ha='left', va='center', fontsize=8)


def ensemble(k, titel, ylim, yticks, leden, oper, ctrl, gem, med):
    ax = basis_as(k, ylim, yticks, 6)
    for m in leden:
        ax.plot(uren, m, color=GROEN, lw=0.9, alpha=0.45, zorder=2)
    ax.plot(uren[:len(med)], med, color=MAGENTA, lw=1.6, dashes=(3.5, 2), zorder=3)
    ax.plot(uren[:len(gem)], gem, color='black', lw=2, dashes=(0.7, 0.5), zorder=4)
    ax.plot(uren[:len(ctrl)], ctrl, color=BLAUW, lw=3, zorder=5)
    ax.plot(uren[:len(oper)], oper, color=ROOD, lw=3, zorder=6)
    legenda(k)
    kop(k, titel)
    return ax


ax1 = ensemble(0, 'Temperatuur 2m', (-20, 20), list(range(-20, 21, 5)),
               temp_leden, temp_oper, temp_ctrl, temp_gem, temp_med)
ax1.axhline(0, color='black', lw=2, zorder=1.5)

ensemble(1, 'Dauwpunt 2m', (-25, 15), list(range(-25, 16, 5)),
         dauw_leden, dauw_oper, dauw_ctrl, dauw_gem, dauw_med)

ensemble(2, 'Neerslag', (0, 12), list(range(0, 13, 2)),
         regen_leden, regen_oper, regen_ctrl, regen_gem, regen_med)

ensemble(3, '10m wind', (0, 14), list(range(0, 15, 2)),
         wind_leden, wind_oper, wind_ctrl, wind_gem, wind_med)

ax5 = ensemble(4, '10m windstoten', (0, 30), list(range(0, 31, 2)),
               stoot_leden, stoot_oper, stoot_ctrl, stoot_gem, stoot_med)
ax5.axhline(stoot_grens_med, color='#e060e0', lw=1.5, dashes=(3.5, 2), zorder=3)
ax5.axhline(stoot_grens_gem, color='#333333', lw=1.5, dashes=(0.7, 0.7), zorder=3)

# bedekkingsgraad
ax6 = basis_as(5, (0, 100), list(range(0, 101, 10)), 3)
ax6.bar(uren, np.array(wolk_q75) - np.array(wolk_q25), bottom=wolk_q25, width=4.7,
        color='#f9f9b6', edgecolor='#bdbdbd', linewidth=0.8, zorder=2)
ax6.hlines(wolk_med, uren - 1.7, uren + 1.7, color='black', lw=1, zorder=3)
ax6.plot(uren[:len(wolk_ctrl)], wolk_ctrl, color='#3b3bc2', lw=1.8, zorder=4)
ax6.plot(uren[:len(wolk_oper)], wolk_oper, color='#c03a3a', lw=1.8, zorder=5)

y6 = 1513
sq = [(28, '#c03a3a', 39, 'oper'), (87, '#3b3bc2', 97, 'control'),
      (155, '#f9f9b6', 165, '50%'), (213, 'black', 224, 'median')]
for xs, kleur, xt, tekst in sq:
    fig.add_artist(Rectangle((xs / W, fy(y6 + 3.5)), 7 / W, 7 / H, transform=fig.transFigure,
                             facecolor=kleur, edgecolor='#333333', linewidth=0.6))
    fig.text(xt / W, fy(y6), tekst, ha='left', va='center', fontsize=8)
kop(5, 'Bedekkingsgraad')

fig.savefig('out.png', dpi=100)
